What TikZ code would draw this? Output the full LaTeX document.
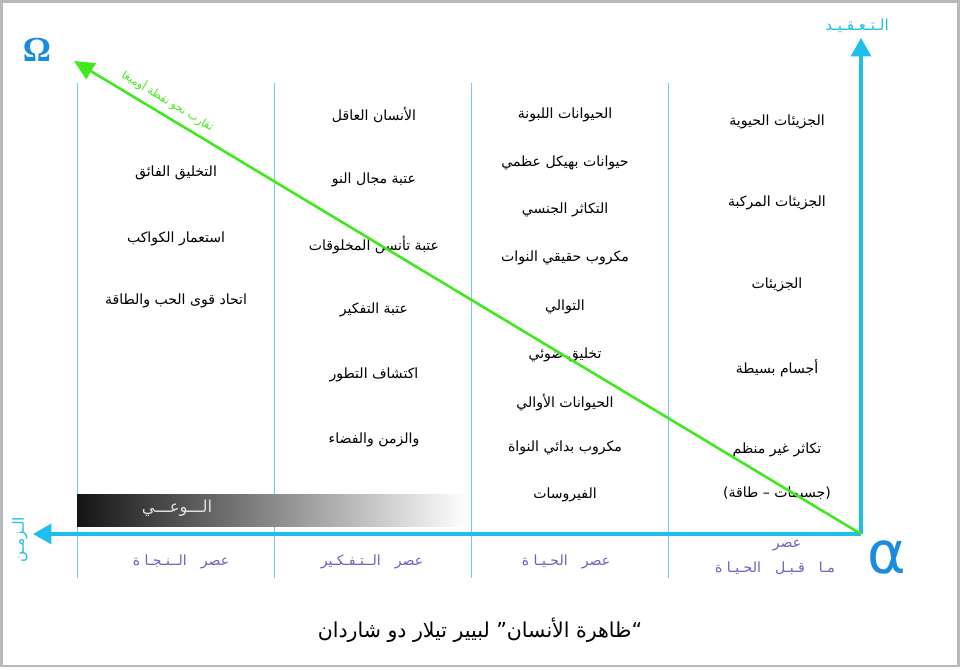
\documentclass[tikz,border=0pt]{standalone}
\usepackage{fontspec}
\usetikzlibrary{arrows.meta}

\newfontfamily\arabicfont[Script=Arabic]{DejaVu Sans}
\newfontfamily\alphafont{DejaVu Sans}
\newfontfamily\omegafont{Liberation Serif}
\TeXXeTstate=1
\newcommand{\artext}[1]{\beginR #1\endR}

\definecolor{axiscyan}{HTML}{1EBFEA}
\definecolor{gridcyan}{HTML}{6CCDE8}
\definecolor{omegablue}{HTML}{1A8CE0}
\definecolor{erapurple}{HTML}{6B63C0}
\definecolor{convgreen}{HTML}{3FEA1C}

\begin{document}
\begin{tikzpicture}[x=0.03cm, y=-0.03cm,
    stage/.style={font=\arabicfont\fontsize{12}{14}\selectfont, inner sep=1pt},
    era/.style={font=\arabicfont\fontsize{12}{14}\selectfont, text=erapurple, inner sep=1pt},
    gridline/.style={gridcyan, line width=0.6pt},
    axis/.style={axiscyan, line width=2.6pt, -{Triangle[length=5.5mm, width=6mm]}},
    converge/.style={convgreen, line width=2.2pt, -{Triangle[length=6mm, width=5.5mm]}}]
    \useasboundingbox (0,0) rectangle (960,669);
    \fill[white] (0,0) rectangle (960,669);
    \draw[gray!55, line width=2.5pt] (1.5,1.5) rectangle (958.5,666);

    % era separators
    \foreach \x in {77,274,471,668}
        \draw[gridline] (\x,83) -- (\x,578);

    % awareness bar
    \shade[left color=black!92, right color=white] (77,494) rectangle (467,526);
    \node[font=\arabicfont\fontsize{14}{16}\selectfont, text=white!88!black] (awareness) at (177,508) {\artext{الـــوعـــي}};

    % axes
    \coordinate (origin) at (861,534);
    \coordinate (complexity tip) at (861,38);
    \coordinate (time tip) at (33,534);
    \coordinate (omega tip) at (74,61);
    \draw[axis] (origin) -- (complexity tip);
    \draw[axis] (origin) -- (time tip);

    \node[font=\arabicfont\fontsize{13}{14}\selectfont, text=axiscyan] (complexity) at (857,26) {\artext{الـتـعـقـيـد}};
    \node[font=\arabicfont\fontsize{13}{14}\selectfont, text=axiscyan, rotate=90] (time) at (20,540) {\artext{الـزمـن}};
    \node[text=omegablue, font=\omegafont\bfseries\fontsize{30}{30}\selectfont] (omega) at (37,50) {Ω};
    \node[text=omegablue, font=\alphafont\fontsize{50}{50}\selectfont] (alpha) at (887,557) {α};

    % stages, right to left
    \foreach \y/\txt [count=\i] in {122/الجزيئات الحيوية, 203/الجزيئات المركبة, 285/الجزيئات, 368/أجسام بسيطة, 450/تكاثر غير منظم, 493/(جسيمات – طاقة)}
        \node[stage] (pre-\i) at (777,\y) {\artext{\txt}};
    \foreach \y/\txt [count=\i] in {115/الحيوانات اللبونة, 163/حيوانات بهيكل عظمي, 210/التكاثر الجنسي, 258/مكروب حقيقي النوات, 307/التوالي, 355/تخليق ضوئي, 402/الحيوانات الأوالي, 448/مكروب بدائي النواة, 495/الفيروسات}
        \node[stage] (life-\i) at (565,\y) {\artext{\txt}};
    \foreach \y/\txt [count=\i] in {115/الأنسان العاقل, 180/عتبة مجال النو, 245/عتبة تأنسن المخلوقات, 310/عتبة التفكير, 375/اكتشاف التطور, 440/والزمن والفضاء}
        \node[stage] (thought-\i) at (374,\y) {\artext{\txt}};
    \foreach \y/\txt [count=\i] in {173/التخليق الفائق, 239/استعمار الكواكب, 301/اتحاد قوى الحب والطاقة}
        \node[stage] (salvation-\i) at (176,\y) {\artext{\txt}};

    % era names
    \node[era] (era-salvation) at (181,562) {\artext{عصر\quad الــنـجـا ة}};
    \node[era] (era-thought) at (372,562) {\artext{عصر\quad الــتـفـكـير}};
    \node[era] (era-life) at (566,562) {\artext{عصر\quad الحـيـا ة}};
    \node[era] (era-pre) at (787,546) {\artext{عصر}};
    \node[era] (era-pre-2) at (775,568) {\artext{مـا\quad قـبـل\quad الحـيـا ة}};

    % convergence
    \draw[converge] (origin) -- (omega tip)
        node[pos=0.89, sloped, above=2pt, text=convgreen, font=\arabicfont\fontsize{9.5}{10}\selectfont] (converge label) {\artext{تقارب نحو نقطة أوميغا}};

    \node[font=\arabicfont\fontsize{17.5}{20}\selectfont] (caption) at (480,630) {\artext{“ظاهرة الأنسان” لبيير تيلار دو شاردان}};
\end{tikzpicture}
\end{document}
